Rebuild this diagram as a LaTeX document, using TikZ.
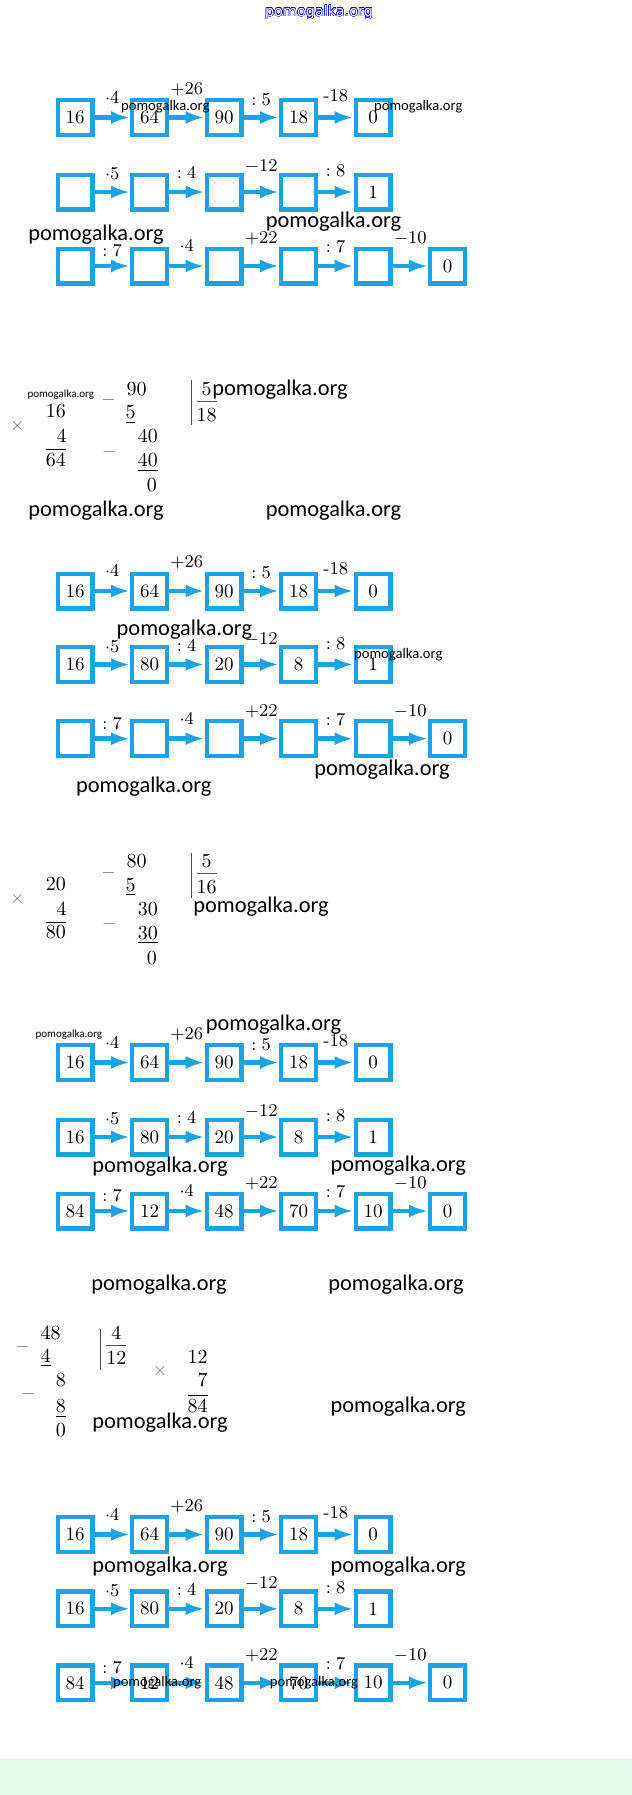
\documentclass[tikz,border=0pt]{standalone}
\usepackage{fontspec}
\usepackage{contour}
\usepackage{tikz}
\usetikzlibrary{arrows.meta}
\newfontfamily\wmfont{Carlito}
\newfontfamily\topfont{DejaVu Sans}
\definecolor{boxblue}{RGB}{27,163,228}
\definecolor{mint}{RGB}{223,252,233}
\tikzstyle{cell} = [draw=boxblue, line width=2.1pt,
	minimum size=17.4pt, inner sep=0pt,
	font=\fontsize{9.5}{11}\selectfont]
\tikzstyle{link} = [-{Latex[length=9.5pt, width=6.5pt]}, draw=boxblue, line width=2.3pt]
\tikzstyle{op} = [font=\small, inner sep=0pt]
\tikzstyle{digit} = [font=\fontsize{10}{11}\selectfont, inner sep=0pt, anchor=base]
\tikzstyle{sign} = [font=\small, text=black!55, inner sep=0pt]
\tikzstyle{wm} = [font=\wmfont\fontsize{11.2}{12}\selectfont, inner sep=0pt]
\tikzstyle{wmsmall} = [font=\wmfont\fontsize{7.3}{8}\selectfont, inner sep=0pt]
\tikzstyle{wmtiny} = [font=\wmfont\fontsize{5.5}{6}\selectfont, inner sep=0pt]
% operations over the arrows: label / raise
\newcommand{\opsfirst}{$\cdot4$/10, $+26$/14, $:5$/9, -18/11}
\newcommand{\opssecond}{$\cdot5$/9, $:4$/9.5, $-12$/12.5, $:8$/10.5}
\newcommand{\opsthird}{$:7$/7.5, $\cdot4$/10, $+22$/13.5, $:7$/9.5, $-10$/13.5}
\newcommand{\chainrow}[4]{%
	\foreach \val [count=\n] in {#3}
		\node[cell] (#1\n) at (0.5+74.5*\n, #2) {\val};
	\foreach \txt/\rise [count=\n] in #4 {
		\pgfmathtruncatemacro{\nn}{\n+1}
		\draw[link] (#1\n) -- (#1\nn) node[op, midway, yshift=\rise pt] {\txt};
	}}
% column multiplication and long division
\newcommand{\calcblock}[7]{%
	\begin{scope}[shift={(0,#2)}]
		\node[sign] (#1x) at (17.4,426) {$\times$};
		\node[digit] (#1m) at (56,417.7) {#3};
		\node[digit] (#1k) at (61.6,442.7) {4};
		\node[digit] (#1p) at (56,466) {$\overline{\mbox{#4}}$};
		\node[sign] (#1s) at (108.6,400) {$-$};
		\node[digit] (#1a) at (136.5,395) {#5};
		\node[digit] (#1b) at (130.5,418.7) {\underline{5}};
		\node[digit] (#1c) at (147.9,442.7) {#6};
		\node[sign] (#1t) at (109.4,451.7) {$-$};
		\node[digit] (#1d) at (147.9,466.7) {\underline{#6}};
		\node[digit] (#1e) at (151.9,491.7) {0};
		\node[digit] (#1v) at (206.6,395.3) {5};
		\node[digit] (#1q) at (206.6,421) {#7};
		\draw[black!70, line width=0.5pt] (191.2,380) -- (191.2,425);
		\draw[black!70, line width=0.5pt] (196.5,401) -- (216.7,401);
	\end{scope}}

\begin{document}
\begin{tikzpicture}[x=0.5pt, y=-0.5pt]
	\useasboundingbox (0,0) rectangle (632,1795);
	\fill[mint] (0,1759) rectangle (632,1795);
	\node (top) at (319,12.5) {\topfont\fontsize{7.2}{8}\selectfont\contour{blue}{\textcolor{white}{pomogalka.org}}};
	
	\chainrow{a}{117.5}{16,64,90,18,0}{\opsfirst}
	\chainrow{b}{192}{{},{},{},{},1}{\opssecond}
	\chainrow{c}{266}{{},{},{},{},{},0}{\opsthird}
	
	\calcblock{p}{0}{16}{64}{90}{40}{18}
	
	\chainrow{d}{591}{16,64,90,18,0}{\opsfirst}
	\chainrow{e}{664.5}{16,80,20,8,1}{\opssecond}
	\chainrow{f}{738.7}{{},{},{},{},{},0}{\opsthird}
	
	\calcblock{q}{472.5}{20}{80}{80}{30}{16}
	
	\chainrow{g}{1062.5}{16,64,90,18,0}{\opsfirst}
	\chainrow{h}{1137}{16,80,20,8,1}{\opssecond}
	\chainrow{k}{1211}{84,12,48,70,10,0}{\opsthird}
	
	% 48 : 4 = 12, 12 * 7 = 84
	\node[sign] (rs1) at (22.3,1346.7) {$-$};
	\node[digit] (ra) at (50.6,1339.3) {48};
	\node[digit] (rb) at (45.8,1362.7) {\underline{4}};
	\node[digit] (rc) at (60.8,1386) {8};
	\node[sign] (rs2) at (28.4,1394.3) {$-$};
	\node[digit] (rd) at (60.8,1412.7) {\underline{8}};
	\node[digit] (re) at (60.8,1436) {0};
	\draw[black!70, line width=0.5pt] (100.5,1329.3) -- (100.5,1370);
	\node[digit] (rv) at (116.3,1339.3) {4};
	\draw[black!70, line width=0.5pt] (106,1345.7) -- (125.6,1345.7);
	\node[digit] (rq) at (116.3,1364.3) {12};
	\node[sign] (rx) at (160,1371) {$\times$};
	\node[digit] (rm) at (197.7,1363.3) {12};
	\node[digit] (rk) at (202.6,1386) {7};
	\node[digit] (rp) at (197.7,1412) {$\overline{\mbox{84}}$};
	
	\chainrow{s}{1534.5}{16,64,90,18,0}{\opsfirst}
	\chainrow{t}{1608.8}{16,80,20,8,1}{\opssecond}
	\chainrow{u}{1682.8}{84,12,48,70,10,0}{\opsthird}
	
	% watermarks
	\foreach \x/\y [count=\n] in {333.5/221.7, 96/234.3, 280/390, 96/510.7, 333.5/510.7,
		184.4/630, 382/770, 143.8/786.7, 261/906.7, 273.5/1025, 160/1166.7, 398.3/1166,
		159/1284.6, 396/1284.6, 160/1422.7, 398.3/1406.7, 160/1566.7, 398.3/1566.7}
		\node[wm] (wm\n) at (\x,\y) {pomogalka.org};
	\foreach \x/\y [count=\n] in {165.3/106.7, 418.3/106.7, 398.3/655, 157.2/1682.7, 314/1682.7}
		\node[wmsmall] (ws\n) at (\x,\y) {pomogalka.org};
	\node[wmtiny] (wt1) at (60.8,395) {pomogalka.org};
	\node[wmtiny] (wt2) at (68.9,1035) {pomogalka.org};
\end{tikzpicture}
\end{document}
